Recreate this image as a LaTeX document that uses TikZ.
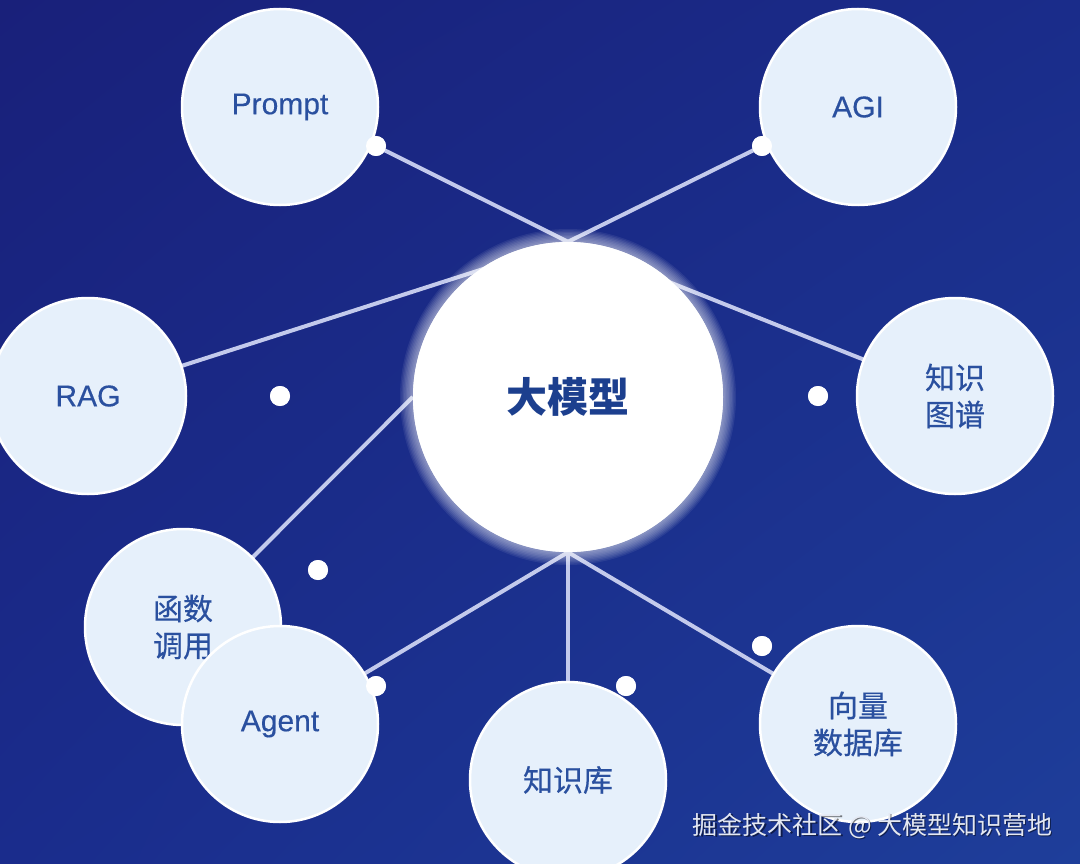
\documentclass[tikz,border=0pt]{standalone}
\usepackage{fontspec}
\usetikzlibrary{shadings}
\setmainfont{Liberation Sans}
\newfontfamily\cjk{Noto Sans CJK SC}
\newfontfamily\cjkm[FakeBold=0.4]{Noto Sans CJK SC}
\newfontfamily\latm[FakeBold=0.3]{Liberation Sans}
\newcommand\lowlabel[1]{\raisebox{-3pt}{#1}}
\definecolor{bgA}{HTML}{19207A}
\definecolor{bgB}{HTML}{1A2C8A}
\definecolor{bgC}{HTML}{1A2C8C}
\definecolor{bgD}{HTML}{1E3E9A}
\definecolor{satfill}{HTML}{E6F0FB}
\definecolor{txtblue}{HTML}{2A509F}
\definecolor{txtdark}{HTML}{1C3F8E}
\definecolor{linecol}{HTML}{C3CAEC}
\definecolor{wmcol}{HTML}{E4E8F2}
\begin{document}
\begin{tikzpicture}[x=1pt,y=-1pt,
  sat/.style={circle, fill=satfill, draw=white, line width=2.5pt, minimum size=196pt,
    inner sep=0pt, text=txtblue, align=center},
  latin/.style={font=\latm\fontsize{30}{36}\selectfont},
  han/.style={font=\cjkm\fontsize{30}{37}\selectfont},
  core/.style={circle, fill=white, minimum size=310pt, inner sep=0pt, text=txtdark,
    font=\cjk\bfseries\fontsize{41}{41}\selectfont},
  link/.style={draw=linecol, line width=4pt},
  dotn/.style={circle, fill=white, minimum size=20pt, inner sep=0pt},
]
\useasboundingbox (0,0) rectangle (1080,864);
\clip (0,0) rectangle (1080,864);
\shade[upper left=bgA, upper right=bgB, lower left=bgC, lower right=bgD] (0,0) rectangle (1080,864);

% positions
\coordinate (pC) at (568,397);
\coordinate (pPrompt) at (280,107);
\coordinate (pAGI) at (858,107);
\coordinate (pRAG) at (88,396);
\coordinate (pKG) at (955,396);
\coordinate (pFunc) at (183,627);
\coordinate (pAgent) at (280,724);
\coordinate (pKB) at (568,780);
\coordinate (pVec) at (858,724);

% dots
\node[dotn] (d1) at (376,146) {};
\node[dotn] (d2) at (762,146) {};
\node[dotn] (d3) at (280,396) {};
\node[dotn] (d4) at (818,396) {};
\node[dotn] (d5) at (318,570) {};
\node[dotn] (d6) at (376,686) {};
\node[dotn] (d7) at (626,686) {};
\node[dotn] (d8) at (762,646) {};

% core node (placed first for anchors; redrawn on top)
\node[core] (llm) at (pC) {};

% connectors
\draw[link] (llm.north) -- (d1.center);
\draw[link] (llm.north) -- (d2.center);
\draw[link] (llm.north) -- (pRAG);
\draw[link] (llm.north) -- (pKG);
\draw[link] (llm.west) -- (pFunc);
\draw[link] (llm.south) -- (pAgent);
\draw[link] (llm.south) -- (pKB);
\draw[link] (llm.south) -- (pVec);

% glow
\foreach \k in {1,...,10}{
  \fill[white, opacity=0.07] (pC) circle ({154+1.4*\k});
}
\node[core] at (pC) {大模型};

% satellites
\node[sat, latin] (prompt) at (pPrompt) {\lowlabel{Prompt}};
\node[sat, latin] (agi) at (pAGI) {\lowlabel{AGI}};
\node[sat, latin] (rag) at (pRAG) {\lowlabel{RAG}};
\node[sat, han] (kg) at (pKG) {知识\\图谱};
\node[sat, han] (func) at (pFunc) {函数\\调用};
\node[sat, latin] (agent) at (pAgent) {\lowlabel{Agent}};
\node[sat, han] (kb) at (pKB) {知识库};
\node[sat, han] (vec) at (pVec) {向量\\数据库};

% dots on top
\foreach \d in {d1,d2,d3,d4,d5,d6,d7,d8}{
  \fill[white] (\d.center) circle (10);
}

% watermark
\node[anchor=east, text=black, opacity=0.5, font=\cjk\fontsize{25}{25}\selectfont] at (1057.5,827.5) {掘金技术社区 @ 大模型知识营地};
\node[anchor=east, text=wmcol, font=\cjk\fontsize{25}{25}\selectfont] (wm) at (1056,826) {掘金技术社区 @ 大模型知识营地};
\end{tikzpicture}
\end{document}
